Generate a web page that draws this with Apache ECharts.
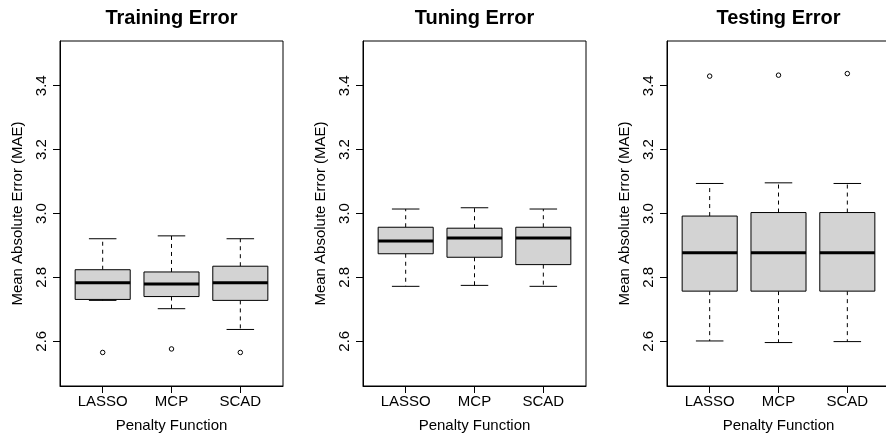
<!DOCTYPE html>
<html>
<head>
<meta charset="utf-8">
<title>MAE by penalty function</title>
<script src="https://cdn.jsdelivr.net/npm/echarts@6/dist/echarts.min.js"></script>
<style>
  html, body { margin: 0; padding: 0; background: #fff; }
  #chart { width: 886px; height: 433px; }
</style>
</head>
<body>
<div id="chart"></div>
<script>
// categories on the x axis (positions 1, 2, 3 like R's boxplot)
var categories = ['LASSO', 'MCP', 'SCAD'];
var panelTitles = ['Training Error', 'Tuning Error', 'Testing Error'];
var yTicks = [2.6, 2.8, 3.0, 3.2, 3.4];

// [position, lower whisker, Q1, median, Q3, upper whisker]
var trainingBox = [
  [1, 2.728, 2.731, 2.783, 2.824, 2.921],
  [2, 2.702, 2.740, 2.779, 2.817, 2.930],
  [3, 2.637, 2.728, 2.783, 2.835, 2.921]
];
var tuningBox = [
  [1, 2.772, 2.874, 2.914, 2.957, 3.014],
  [2, 2.775, 2.863, 2.923, 2.954, 3.018],
  [3, 2.772, 2.840, 2.923, 2.957, 3.014]
];
var testingBox = [
  [1, 2.601, 2.757, 2.877, 2.992, 3.094],
  [2, 2.596, 2.757, 2.877, 3.003, 3.096],
  [3, 2.599, 2.757, 2.877, 3.003, 3.094]
];

// [position, value]
var trainingOutliers = [[1, 2.565], [2, 2.576], [3, 2.565]];
var tuningOutliers = [];
var testingOutliers = [[1, 3.430], [2, 3.433], [3, 3.438]];

var fontFamily = '"Liberation Sans", Arial, Helvetica, sans-serif';
var panelLeft = [60, 363, 667];
var panelWidth = 223;

// R style box: dashed whiskers, solid staples, grey box, thick median
function renderBox(params, api) {
  var x = api.value(0);
  var low = api.coord([x, api.value(1)]);
  var q1 = api.coord([x, api.value(2)]);
  var med = api.coord([x, api.value(3)]);
  var q3 = api.coord([x, api.value(4)]);
  var high = api.coord([x, api.value(5)]);
  var half = api.size([0.4, 0])[0];
  var staple = half / 2;
  var cx = med[0];
  var dashed = { stroke: '#000', lineWidth: 1, lineDash: [4, 4] };
  var solid = { stroke: '#000', lineWidth: 1 };
  return {
    type: 'group',
    children: [
      { type: 'line', shape: { x1: cx, y1: q3[1], x2: cx, y2: high[1] }, style: dashed },
      { type: 'line', shape: { x1: cx, y1: q1[1], x2: cx, y2: low[1] }, style: dashed },
      { type: 'line', shape: { x1: cx - staple, y1: high[1], x2: cx + staple, y2: high[1] }, style: solid },
      { type: 'line', shape: { x1: cx - staple, y1: low[1], x2: cx + staple, y2: low[1] }, style: solid },
      {
        type: 'rect',
        shape: { x: cx - half, y: q3[1], width: half * 2, height: q1[1] - q3[1] },
        style: { fill: '#d3d3d3', stroke: '#000', lineWidth: 1 }
      },
      { type: 'line', shape: { x1: cx - half, y1: med[1], x2: cx + half, y2: med[1] }, style: { stroke: '#000', lineWidth: 3 } }
    ]
  };
}

var boxes = [trainingBox, tuningBox, testingBox];
var outliers = [trainingOutliers, tuningOutliers, testingOutliers];

var titles = [], grids = [], xAxes = [], yAxes = [], series = [];
for (var i = 0; i < 3; i++) {
  titles.push({
    text: panelTitles[i],
    left: panelLeft[i] + panelWidth / 2,
    top: 8,
    padding: 0,
    textAlign: 'center',
    textStyle: { fontFamily: fontFamily, fontSize: 20, fontWeight: 'bold', color: '#000' }
  });
  grids.push({
    left: panelLeft[i],
    top: 41,
    width: panelWidth,
    height: 345,
    outerBoundsMode: 'none',
    containLabel: false,
    show: true,
    borderColor: '#000',
    borderWidth: 1,
    backgroundColor: 'transparent'
  });
  xAxes.push({
    type: 'value',
    gridIndex: i,
    min: 0.38,
    max: 3.62,
    name: 'Penalty Function',
    nameLocation: 'middle',
    nameGap: 32,
    nameTextStyle: { fontFamily: fontFamily, fontSize: 15, color: '#000' },
    axisLine: { show: true, lineStyle: { color: '#000' } },
    axisTick: { show: true, length: 7, customValues: [1, 2, 3], lineStyle: { color: '#000' } },
    axisLabel: {
      customValues: [1, 2, 3],
      margin: 8,
      fontFamily: fontFamily,
      fontSize: 15,
      color: '#000',
      formatter: function (v) { return categories[Math.round(v) - 1]; }
    },
    splitLine: { show: false }
  });
  yAxes.push({
    type: 'value',
    gridIndex: i,
    min: 2.46,
    max: 3.54,
    name: 'Mean Absolute Error (MAE)',
    nameLocation: 'middle',
    nameRotate: 90,
    nameGap: 35,
    nameTextStyle: { fontFamily: fontFamily, fontSize: 15, color: '#000' },
    axisLine: { show: true, lineStyle: { color: '#000' } },
    axisTick: { show: true, length: 7, customValues: yTicks, lineStyle: { color: '#000' } },
    axisLabel: {
      customValues: yTicks,
      rotate: 90,
      margin: 11,
      fontFamily: fontFamily,
      fontSize: 15,
      color: '#000',
      formatter: function (v) { return v.toFixed(1); }
    },
    splitLine: { show: false }
  });
  series.push({
    type: 'custom',
    xAxisIndex: i,
    yAxisIndex: i,
    renderItem: renderBox,
    encode: { x: 0, y: [1, 2, 3, 4, 5] },
    data: boxes[i],
    silent: true
  });
  series.push({
    type: 'scatter',
    xAxisIndex: i,
    yAxisIndex: i,
    symbol: 'circle',
    symbolSize: 4.5,
    itemStyle: { color: '#fff', borderColor: '#000', borderWidth: 1, opacity: 1 },
    data: outliers[i],
    silent: true
  });
}

var myChart = echarts.init(document.getElementById('chart'), null, { renderer: 'canvas' });
myChart.setOption({
  animation: false,
  backgroundColor: '#fff',
  textStyle: { fontFamily: fontFamily },
  title: titles,
  grid: grids,
  xAxis: xAxes,
  yAxis: yAxes,
  series: series
});
</script>
</body>
</html>
